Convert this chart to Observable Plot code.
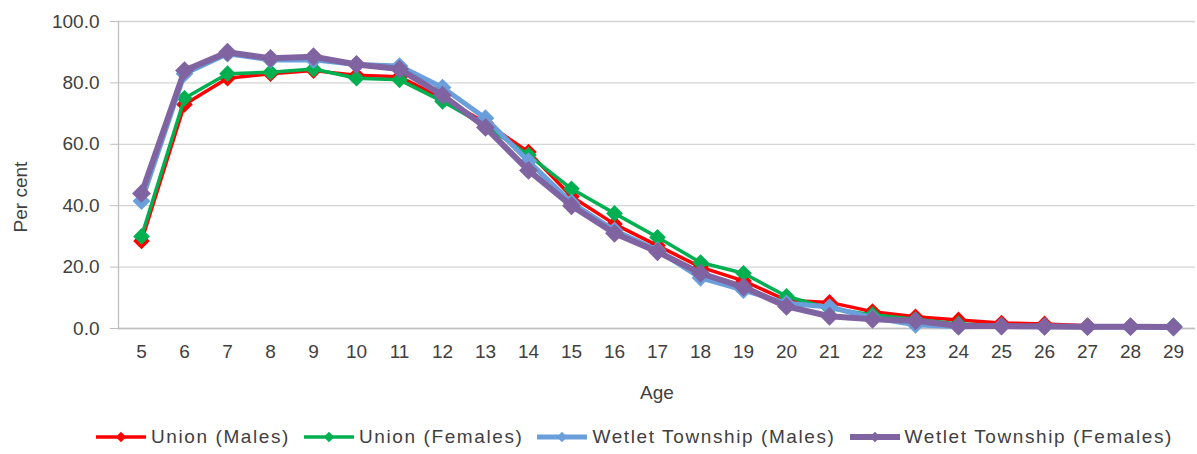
<!DOCTYPE html>
<html>
<head>
<meta charset="utf-8">
<script src="https://cdn.jsdelivr.net/npm/d3@7"></script>
<script src="https://cdn.jsdelivr.net/npm/@observablehq/plot@0.6"></script>
<style>
  html, body { margin: 0; padding: 0; background: #fff; }
  body { width: 1197px; height: 454px; overflow: hidden; font-family: "Liberation Sans", Arial, sans-serif; }
  #legend { display: flex; justify-content: center; align-items: center; height: 34px; font-size: 19px; letter-spacing: 1.6px; color: #404040; padding-left: 70px; }
  .item { display: flex; align-items: center; margin: 0 6px; }
  .item svg { margin-right: 3px; }
</style>
</head>
<body>
<div id="chart"></div>
<div id="legend"></div>
<script>
const ages = [5,6,7,8,9,10,11,12,13,14,15,16,17,18,19,20,21,22,23,24,25,26,27,28,29];
const seriesNames = ["Union (Males)", "Union (Females)", "Wetlet Township (Males)", "Wetlet Township (Females)"];
const seriesColors = ["#ff0000", "#00b050", "#6a9fdc", "#8064a2"];
const unionMales =     [28.5, 73, 81.5, 83, 84, 82.5, 82, 75, 67, 57.5, 43, 34, 27, 20, 15.5, 9.2, 8.5, 5.5, 3.8, 2.8, 1.8, 1.5, 0.9, 0.8, 0.6];
const unionFemales =   [30, 75, 83, 83.5, 84.5, 81.5, 81, 74, 66, 56.5, 45.5, 37.5, 29.7, 21.5, 18, 10.5, 6.5, 4.5, 3, 1.5, 1, 0.8, 0.7, 0.7, 0.9];
const wetletMales =    [41.5, 83, 89.5, 87.5, 87.5, 86, 85.5, 78.5, 68.5, 54.5, 41, 32, 25.5, 16.5, 12.5, 8.2, 7, 3.5, 1.2, 0.6, 0.7, 0.6, 0.5, 0.5, 0.4];
const wetletFemales =  [44, 84, 90, 88, 88.5, 86, 84.5, 76, 65.5, 51.5, 40, 31, 25, 18, 13.5, 7.2, 4, 3, 2.5, 0.8, 0.8, 0.7, 0.6, 0.6, 0.5];
const yTicks = [0, 20, 40, 60, 80, 100];

const allSeries = [unionMales, unionFemales, wetletMales, wetletFemales];
const rows = [];
allSeries.forEach((vals, s) => vals.forEach((v, i) => rows.push({series: seriesNames[s], age: ages[i], value: v})));

const widths = [3.5, 3.5, 5, 6];
const radii = [7.5, 7.5, 8, 8.5];

const marks = [
  Plot.gridY(yTicks, {stroke: "#d4d4d4", strokeOpacity: 1, strokeWidth: 1.3}),
  Plot.axisY({ticks: yTicks, tickFormat: d3.format(".1f"), tickSize: 8, tickPadding: 11, stroke: "#bfbfbf", fill: "#404040", fontSize: 19, letterSpacing: 0.8, label: null}),
  Plot.axisX({tickSize: 0, tickPadding: 16, fill: "#404040", fontSize: 19, letterSpacing: 0.8, label: null}),
  Plot.ruleY([0], {stroke: "#bfbfbf", strokeWidth: 1.3}),
  Plot.frame({anchor: "left", stroke: "#bfbfbf", strokeWidth: 1.3}),
  Plot.text(["Age"], {frameAnchor: "bottom", dy: 70, fontSize: 19, fill: "#404040", letterSpacing: 0.8}),
  Plot.text(["Per cent"], {frameAnchor: "left", textAnchor: "middle", dx: -98, dy: 22, rotate: -90, fontSize: 19, fill: "#404040", letterSpacing: 0.8})
];
seriesNames.forEach((name, s) => {
  const data = rows.filter(d => d.series === name);
  marks.push(Plot.line(data, {x: "age", y: "value", stroke: seriesColors[s], strokeWidth: widths[s]}));
  marks.push(Plot.dot(data, {x: "age", y: "value", symbol: "diamond2", r: radii[s], fill: seriesColors[s], stroke: "none"}));
});

const chart = Plot.plot({
  width: 1197,
  height: 420,
  marginLeft: 118,
  marginRight: 2,
  marginTop: 21,
  marginBottom: 92,
  style: {fontFamily: "'Liberation Sans', Arial, sans-serif", fontSize: "19px", color: "#404040", background: "#fff"},
  x: {type: "point", domain: ages, padding: 0.5},
  y: {domain: [0, 100]},
  marks
});
document.getElementById("chart").appendChild(chart);

const legend = document.getElementById("legend");
seriesNames.forEach((name, s) => {
  const item = document.createElement("div");
  item.className = "item";
  const sw = d3.create("svg").attr("width", 54).attr("height", 20);
  sw.append("line").attr("x1", 2).attr("x2", 52).attr("y1", 10).attr("y2", 10).attr("stroke", seriesColors[s]).attr("stroke-width", widths[s]);
  sw.append("path").attr("d", d3.symbol(d3.symbolDiamond2, 70)()).attr("transform", "translate(27,10)").attr("fill", seriesColors[s]);
  item.appendChild(sw.node());
  const t = document.createElement("span");
  t.textContent = name;
  item.appendChild(t);
  legend.appendChild(item);
});
</script>
</body>
</html>
